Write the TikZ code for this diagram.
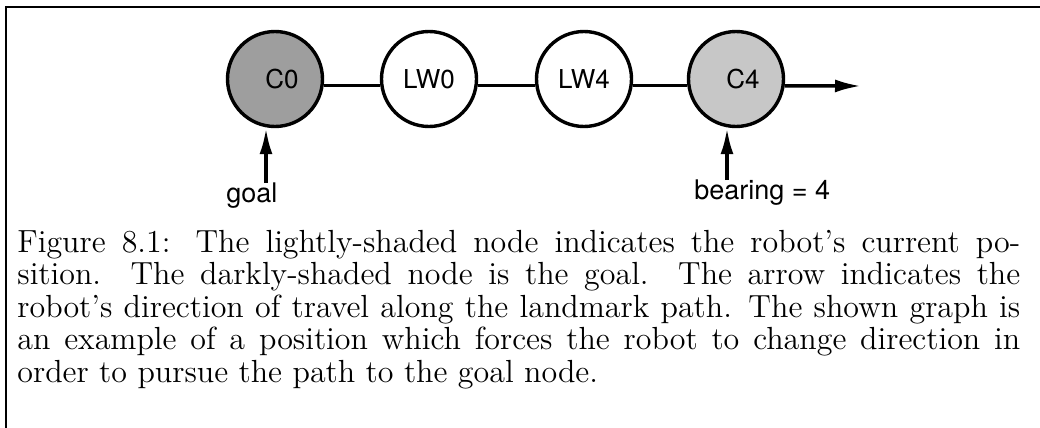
\documentclass[tikz,border=0pt]{standalone}
\usepackage{fontspec}
\setsansfont{TeX Gyre Heros}
\usetikzlibrary{arrows.meta}
\begin{document}
\begin{tikzpicture}[x=0.5pt,y=-0.5pt,
  lm/.style={circle, draw, line width=1.7pt, minimum size=47.5pt, inner sep=0pt,
             font=\sffamily\fontsize{13}{13}\selectfont},
  dark/.style={lm, fill=black!38},
  light/.style={lm, fill=black!22},
  link/.style={line width=1.6pt},
  arr/.style={line width=1.7pt, -{Latex[length=13pt,width=6.5pt]}},
  lbl/.style={font=\sffamily\fontsize{13.5}{13.5}\selectfont, inner sep=0pt, anchor=base west},
  framestyle/.style={line width=1pt}]
\useasboundingbox (0,0) rectangle (1040,428);
% frame
\draw[framestyle] (6,428) -- (6,7) -- (1040,7);
% nodes
\node[dark]  (C0)  at (275,79) {\hspace{7pt}C0};
\node[lm]    (LW0) at (429,79) {LW0};
\node[lm]    (LW4) at (584,79) {LW4};
\node[light] (C4)  at (736,79) {\hspace{7pt}C4};
% links
\draw[link] (C0.-8) -- (LW0.188);
\draw[link] (LW0.-8) -- (LW4.188);
\draw[link] (LW4.-8) -- (C4.188);
\coordinate (out) at (861,86);
\draw[arr] (C4.-8) -- (out);
% labels and bearing arrows
\node[lbl] (goal) at (226,202) {goal};
\node[lbl] (bearing) at (694,199) {bearing = 4};
\coordinate (gfoot) at (266,183);
\coordinate (bfoot) at (727,180);
\draw[arr] (gfoot) -- (gfoot |- C0.south);
\draw[arr] (bfoot) -- (bfoot |- C4.south);
% caption
\node[anchor=base west, inner sep=0pt] (cap) at (17,252) {\scalebox{1.3333}{\fontsize{12}{12.19}\selectfont\parbox[t]{376.1pt}{%
\hbox to \hsize{Figure 8.1: The lightly-shaded node indicates the robot's current po-}%
\hbox to \hsize{sition. The darkly-shaded node is the goal. The arrow indicates the}%
\hbox to \hsize{robot's direction of travel along the landmark path. The shown graph is}%
\hbox to \hsize{an example of a position which forces the robot to change direction in}%
\hbox{order to pursue the path to the goal node.}}}};
\end{tikzpicture}
\end{document}
